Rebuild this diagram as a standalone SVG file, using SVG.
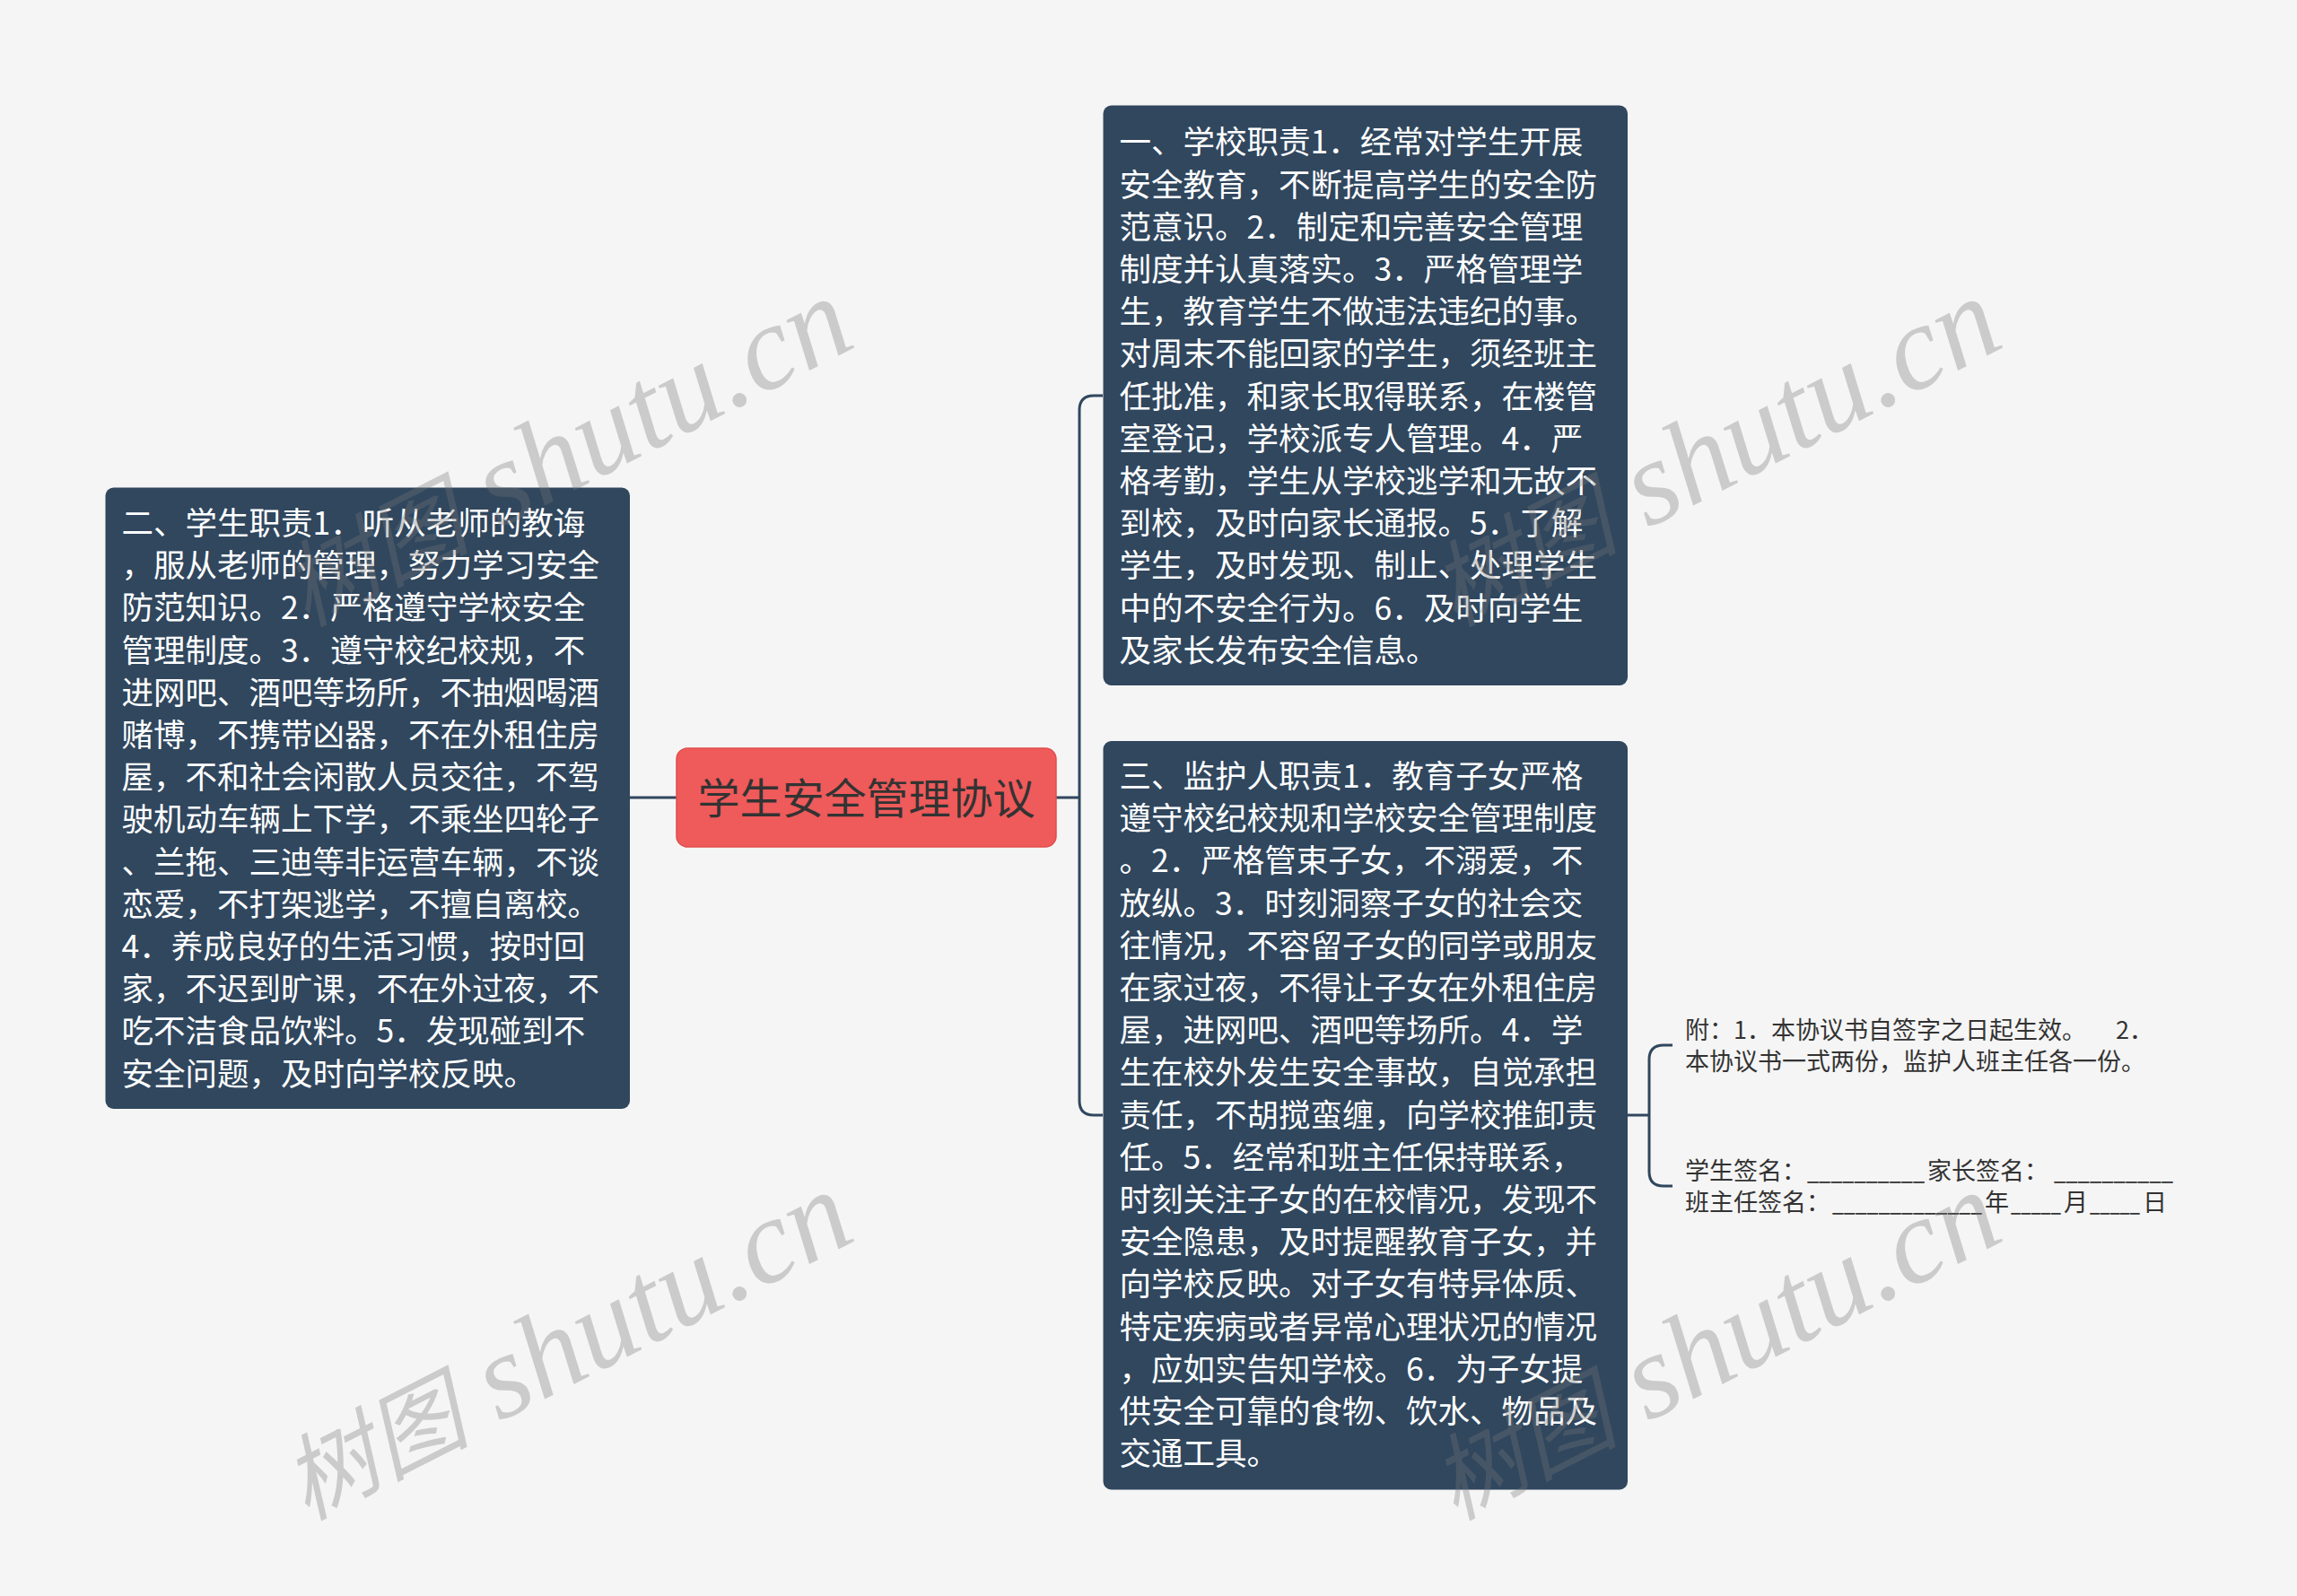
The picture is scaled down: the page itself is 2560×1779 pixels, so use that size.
<svg xmlns="http://www.w3.org/2000/svg" width="2560" height="1779" viewBox="0 0 2560 1779">
<style>
.box{fill:#30475e}
.bt{font-family:"Noto Sans CJK SC","Noto Sans",sans-serif;font-size:35.5px;fill:#ffffff}
.ct{font-family:"Noto Sans CJK SC","Noto Sans",sans-serif;font-size:47px;fill:#333333}
.st{font-family:"Noto Sans CJK SC","Noto Sans",sans-serif;font-size:27px;fill:#333333}
.conn{fill:none;stroke:#30475e;stroke-width:3}
.wm{font-family:"Liberation Serif","Noto Sans CJK SC",serif;font-size:134px;font-style:italic;fill:#777777;opacity:0.33}
.wmc{font-family:"Noto Sans CJK SC",sans-serif;font-size:104px}
</style>
<rect x="0" y="0" width="2560" height="1779" fill="#f5f5f5"/>
<g id="connectors">
<path class="conn" d="M702,889 H754"/>
<path class="conn" d="M1177,889 H1203"/>
<path class="conn" d="M1229,441 H1219 Q1203,441 1203,457 V1227 Q1203,1243 1219,1243 H1229"/>
<path class="conn" d="M1814,1243 H1838"/>
<path class="conn" d="M1864,1165 H1854 Q1838,1165 1838,1181 V1306 Q1838,1322 1854,1322 H1864"/>
</g>
<g id="center">
<rect x="754" y="834" width="423" height="110" rx="12" fill="#ef5a5a" stroke="#e04e4e" stroke-width="1.5"/>
<text class="ct" x="965.5" y="907" text-anchor="middle">学生安全管理协议</text>
</g>
<g id="student">
<rect class="box" x="117.5" y="543.5" width="584.5" height="692.5" rx="9"/>
<text class="bt">
<tspan x="135.5" y="596">二、学生职责1．听从老师的教诲</tspan>
<tspan x="135.5" y="643.2">，服从老师的管理，努力学习安全</tspan>
<tspan x="135.5" y="690.4">防范知识。2．严格遵守学校安全</tspan>
<tspan x="135.5" y="737.6">管理制度。3．遵守校纪校规，不</tspan>
<tspan x="135.5" y="784.8">进网吧、酒吧等场所，不抽烟喝酒</tspan>
<tspan x="135.5" y="832">赌博，不携带凶器，不在外租住房</tspan>
<tspan x="135.5" y="879.2">屋，不和社会闲散人员交往，不驾</tspan>
<tspan x="135.5" y="926.4">驶机动车辆上下学，不乘坐四轮子</tspan>
<tspan x="135.5" y="973.6">、兰拖、三迪等非运营车辆，不谈</tspan>
<tspan x="135.5" y="1020.8">恋爱，不打架逃学，不擅自离校。</tspan>
<tspan x="135.5" y="1068">4．养成良好的生活习惯，按时回</tspan>
<tspan x="135.5" y="1115.2">家，不迟到旷课，不在外过夜，不</tspan>
<tspan x="135.5" y="1162.4">吃不洁食品饮料。5．发现碰到不</tspan>
<tspan x="135.5" y="1209.6">安全问题，及时向学校反映。</tspan>
</text>
</g>
<g id="school">
<rect class="box" x="1229.5" y="117.5" width="584.5" height="646.5" rx="9"/>
<text class="bt">
<tspan x="1247.5" y="171.4">一、学校职责1．经常对学生开展</tspan>
<tspan x="1247.5" y="218.6">安全教育，不断提高学生的安全防</tspan>
<tspan x="1247.5" y="265.8">范意识。2．制定和完善安全管理</tspan>
<tspan x="1247.5" y="313">制度并认真落实。3．严格管理学</tspan>
<tspan x="1247.5" y="360.2">生，教育学生不做违法违纪的事。</tspan>
<tspan x="1247.5" y="407.4">对周末不能回家的学生，须经班主</tspan>
<tspan x="1247.5" y="454.6">任批准，和家长取得联系，在楼管</tspan>
<tspan x="1247.5" y="501.8">室登记，学校派专人管理。4．严</tspan>
<tspan x="1247.5" y="549">格考勤，学生从学校逃学和无故不</tspan>
<tspan x="1247.5" y="596.2">到校，及时向家长通报。5．了解</tspan>
<tspan x="1247.5" y="643.4">学生，及时发现、制止、处理学生</tspan>
<tspan x="1247.5" y="690.6">中的不安全行为。6．及时向学生</tspan>
<tspan x="1247.5" y="737.8">及家长发布安全信息。</tspan>
</text>
</g>
<g id="guardian">
<rect class="box" x="1229.5" y="826" width="584.5" height="834.5" rx="9"/>
<text class="bt">
<tspan x="1247.5" y="878">三、监护人职责1．教育子女严格</tspan>
<tspan x="1247.5" y="925.2">遵守校纪校规和学校安全管理制度</tspan>
<tspan x="1247.5" y="972.4">。2．严格管束子女，不溺爱，不</tspan>
<tspan x="1247.5" y="1019.6">放纵。3．时刻洞察子女的社会交</tspan>
<tspan x="1247.5" y="1066.8">往情况，不容留子女的同学或朋友</tspan>
<tspan x="1247.5" y="1114">在家过夜，不得让子女在外租住房</tspan>
<tspan x="1247.5" y="1161.2">屋，进网吧、酒吧等场所。4．学</tspan>
<tspan x="1247.5" y="1208.4">生在校外发生安全事故，自觉承担</tspan>
<tspan x="1247.5" y="1255.6">责任，不胡搅蛮缠，向学校推卸责</tspan>
<tspan x="1247.5" y="1302.8">任。5．经常和班主任保持联系，</tspan>
<tspan x="1247.5" y="1350">时刻关注子女的在校情况，发现不</tspan>
<tspan x="1247.5" y="1397.2">安全隐患，及时提醒教育子女，并</tspan>
<tspan x="1247.5" y="1444.4">向学校反映。对子女有特异体质、</tspan>
<tspan x="1247.5" y="1491.6">特定疾病或者异常心理状况的情况</tspan>
<tspan x="1247.5" y="1538.8">，应如实告知学校。6．为子女提</tspan>
<tspan x="1247.5" y="1586">供安全可靠的食物、饮水、物品及</tspan>
<tspan x="1247.5" y="1633.2">交通工具。</tspan>
</text>
</g>
<g id="appendix">
<text class="st">
<tspan x="1878" y="1158">附：1．本协议书自签字之日起生效。</tspan><tspan x="2358" y="1158">2．</tspan>
<tspan x="1878" y="1193">本协议书一式两份，监护人班主任各一份。</tspan>
</text>
</g>
<g id="signature">
<text class="st">
<tspan x="1878" y="1315">学生签名：</tspan><tspan x="2014" y="1315" textLength="131" lengthAdjust="spacingAndGlyphs">__________</tspan><tspan x="2148" y="1315">家长签名：</tspan><tspan x="2289" y="1315" textLength="133" lengthAdjust="spacingAndGlyphs">__________</tspan>
<tspan x="1878" y="1350">班主任签名：</tspan><tspan x="2042" y="1350" textLength="167" lengthAdjust="spacingAndGlyphs">_____________</tspan><tspan x="2212" y="1350">年</tspan><tspan x="2241" y="1350" textLength="56" lengthAdjust="spacingAndGlyphs">_____</tspan><tspan x="2300" y="1350">月</tspan><tspan x="2329" y="1350" textLength="56" lengthAdjust="spacingAndGlyphs">_____</tspan><tspan x="2388" y="1350">日</tspan>
</text>
</g>
<g id="watermarks">
<text class="wm" x="341" y="699" transform="rotate(-27 341 699)"><tspan class="wmc">树图</tspan> shutu.cn</text>
<text class="wm" x="341" y="1695" transform="rotate(-27 341 1695)"><tspan class="wmc">树图</tspan> shutu.cn</text>
<text class="wm" x="1621" y="699" transform="rotate(-27 1621 699)"><tspan class="wmc">树图</tspan> shutu.cn</text>
<text class="wm" x="1621" y="1695" transform="rotate(-27 1621 1695)"><tspan class="wmc">树图</tspan> shutu.cn</text>
</g>
</svg>
